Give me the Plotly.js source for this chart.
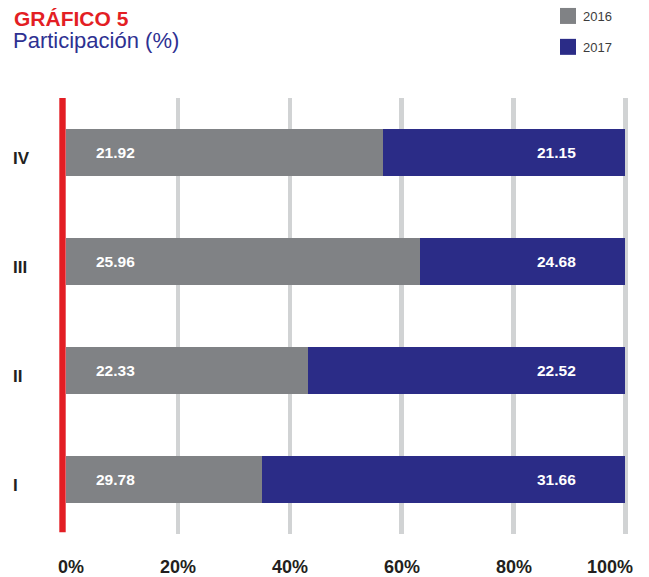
<!DOCTYPE html>
<html>
<head>
<meta charset="utf-8">
<script src="https://cdn.plot.ly/plotly-3.0.1.min.js"></script>
<style>
  html, body { margin: 0; padding: 0; background: #ffffff; }
  #chart { width: 649px; height: 577px; }
  .legend .legendpoints path { transform: translate(20px, 0px) scale(1.333); }
  .legend .legendtext { transform: translate(-5px, 0px); }
</style>
</head>
<body>
<div id="chart"></div>
<script>
// ---- data ----
const categories = ['I', 'II', 'III', 'IV'];
const series2016Name = '2016';
const series2017Name = '2017';
// bar lengths as drawn (share of the 100% bar)
const share2016 = [35.1, 43.2, 63.2, 56.7];
const share2017 = [64.9, 56.8, 36.8, 43.3];
// printed value labels
const label2016 = ['29.78', '22.33', '25.96', '21.92'];
const label2017 = ['31.66', '22.52', '24.68', '21.15'];
// x axis ticks
const tickVals = [0, 20, 40, 60, 80, 100];
const tickText = ['0%', '20%', '40%', '60%', '80%', '100%'];
const titleText = 'GRÁFICO 5';
const subtitleText = 'Participación (%)';

// ---- styles ----
const FONT = 'Liberation Sans, Arial, Helvetica, sans-serif';
const GRAY = '#808285';
const BLUE = '#2b2c87';
const RED = '#e31e24';
const DARK = '#231f20';
const GRID = '#d1d3d4';

const W = 649, H = 577;
const M = { l: 66, r: 18, t: 98, b: 43, autoexpand: false };
const plotW = W - M.l - M.r;
const plotH = H - M.t - M.b;
const xMax = 101;

const traces = [
  { type: 'bar', orientation: 'h', name: series2016Name, legendgroup: 'a',
    y: categories, x: share2016, marker: { color: GRAY, line: { width: 0 } }, hoverinfo: 'skip' },
  { type: 'bar', orientation: 'h', name: series2017Name, legendgroup: 'b',
    y: categories, x: share2017, marker: { color: BLUE, line: { width: 0 } }, hoverinfo: 'skip' }
];

const annotations = [];
categories.forEach((c, i) => {
  // value labels
  annotations.push({ x: 8.8, y: c, xref: 'x', yref: 'y', text: label2016[i], showarrow: false,
    xanchor: 'center', yanchor: 'middle', font: { family: FONT, size: 15.5, color: '#ffffff', weight: 'bold' } });
  annotations.push({ x: 87.7, y: c, xref: 'x', yref: 'y', text: label2017[i], showarrow: false,
    xanchor: 'center', yanchor: 'middle', font: { family: FONT, size: 15.5, color: '#ffffff', weight: 'bold' } });
  // category labels
  annotations.push({ x: (12 - M.l) / plotW, xref: 'paper', y: c, yref: 'y', yshift: -6, borderpad: 0,
    text: c, showarrow: false, xanchor: 'left', yanchor: 'middle',
    font: { family: FONT, size: 17, color: DARK, weight: 'bold' } });
});
// x tick labels
tickVals.forEach((v, i) => {
  let shift = 0;
  if (i === 0) shift = 5;
  if (i === tickVals.length - 1) shift = -15;
  annotations.push({ x: v, xref: 'x', y: ((H - M.b) - 566.5) / plotH, yref: 'paper', borderpad: 0,
    xshift: shift, text: tickText[i], showarrow: false, xanchor: 'center', yanchor: 'middle',
    font: { family: FONT, size: 18, color: DARK, weight: 'bold' } });
});
// subtitle
annotations.push({ x: (12 - M.l) / plotW, xref: 'paper', xanchor: 'left', borderpad: 0,
  y: (H - M.b - 40.7) / plotH, yref: 'paper', yanchor: 'middle',
  text: subtitleText, showarrow: false, font: { family: FONT, size: 22, color: '#2e3192' } });

const layout = {
  width: W, height: H, margin: M,
  paper_bgcolor: '#ffffff', plot_bgcolor: '#ffffff',
  barmode: 'stack', bargap: 0.565,
  title: { text: titleText, xref: 'container', x: 14 / W, xanchor: 'left',
    yref: 'container', y: 1 - 18.35 / H, yanchor: 'middle',
    font: { family: FONT, size: 21, color: RED, weight: 'bold' } },
  xaxis: { range: [0, xMax], tickvals: tickVals.slice(1), showticklabels: false,
    showgrid: true, gridcolor: GRID, gridwidth: 4.3, zeroline: false, showline: false, ticks: '', fixedrange: true },
  yaxis: { type: 'category', categoryorder: 'array', categoryarray: categories,
    range: [-0.5, 3.5], showticklabels: false, showgrid: false, zeroline: false, showline: false, ticks: '', fixedrange: true },
  showlegend: true,
  legend: { xref: 'container', yref: 'container', x: 548 / W, xanchor: 'left', y: 1 - 1 / H, yanchor: 'top',
    traceorder: 'grouped', tracegroupgap: 11, bgcolor: 'rgba(0,0,0,0)', borderwidth: 0,
    font: { family: FONT, size: 13, color: '#3c3c3c' } },
  shapes: [{ type: 'line', layer: 'above', xref: 'paper', x0: -3.5 / plotW, x1: -3.5 / plotW,
    yref: 'paper', y0: 0.004, y1: 1, line: { color: RED, width: 6.4 } }],
  annotations: annotations
};

Plotly.newPlot('chart', traces, layout, { displayModeBar: false, staticPlot: true });
</script>
</body>
</html>
